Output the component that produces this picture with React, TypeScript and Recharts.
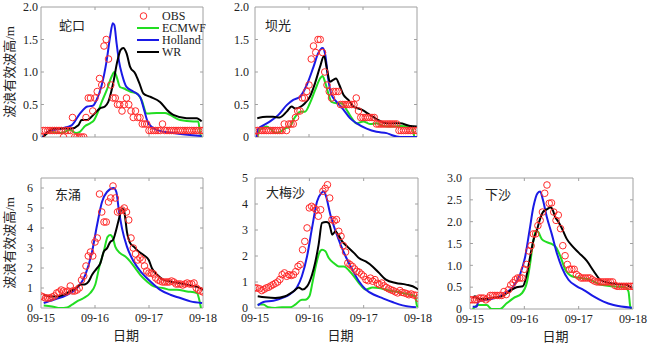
import { ComposedChart, Line, Scatter, XAxis, YAxis, ReferenceArea, ReferenceLine } from 'recharts'

// hours since 09-15 00:00, OBS is hourly
const HOURS = Array.from({ length: 73 }, (_, i) => i)
const DAY_TICKS = [0, 24, 48, 72]
const DAY_LABELS = ['09-15', '09-16', '09-17', '09-18']

const SERIES_NAMES = ['OBS', 'ECMWF', 'Holland', 'WR']

// 蛇口
const skObs = [
  0, 0.1, 0.1, 0.1, 0.1, 0.1, 0.1, 0.1, 0.1, 0.1,
  0, 0.1, 0.1, 0.1, 0.3, 0, 0, 0, 0, 0,
  0.3, 0.6, 0.6, 0.4, 0.6, 0.7, 0.9, 0.8, 1.4, 1.5,
  1.2, 0.8, 0.6, 0.6, 0.5, 0.5, 0.4, 0.5, 0.6, 0.5,
  0.4, 0.3, 0.4, 0.3, 0.3, 0.2, 0.2, 0.2, 0.1, 0.1,
  0.1, 0.1, 0.1, 0.1, 0.2, 0.1, 0.1, 0.1, 0.1, 0.1,
  0.1, 0.1, 0.1, 0.1, 0.1, 0.1, 0.1, 0.1, 0.1, 0.1,
  0.1, 0.1, 0.1,
]
const skEcmwf = [[0.7, 0], [4.7, 0.08], [7.7, 0.06], [10, 0.07], [12.9, 0.11], [15.6, 0.06], [17.3, 0.08], [19.6, 0.17], [21.8, 0.21], [23.6, 0.26], [25, 0.36], [27, 0.54], [29.2, 0.72], [31.4, 0.93], [32.6, 1.0], [33.6, 0.93], [35.1, 0.77], [36.6, 0.75], [39.6, 0.7], [42.5, 0.67], [44.7, 0.57], [47, 0.36], [51.4, 0.37], [55.1, 0.37], [57.3, 0.34], [61.8, 0.26], [67.7, 0.24], [69.9, 0.24], [70.7, 0.06], [71.4, 0]]
const skHolland = [[0.7, 0], [3, 0.08], [9, 0.13], [13.6, 0.18], [17.3, 0.36], [20.6, 0.47], [23, 0.48], [24.7, 0.57], [27, 0.8], [29.2, 1.18], [30.7, 1.54], [31.9, 1.75], [32.6, 1.72], [33.6, 1.44], [34.7, 1.16], [36.1, 0.95], [38, 0.77], [41, 0.7], [44, 0.62], [45.8, 0.42], [47.7, 0.21], [51.4, 0.11], [58.8, 0.06], [71.4, 0.015]]
const skWr = [[1, 0], [3.3, 0.08], [5.5, 0.13], [13.6, 0.13], [16.6, 0.18], [18, 0.26], [20.6, 0.26], [21.8, 0.29], [23.3, 0.34], [26.2, 0.44], [28.4, 0.47], [29.9, 0.54], [32.1, 0.83], [33.9, 1.16], [35.4, 1.34], [36.6, 1.37], [38, 1.29], [39.6, 1.08], [41.8, 0.98], [43.7, 0.83], [45.5, 0.67], [48.4, 0.62], [52.9, 0.54], [55.9, 0.42], [58.8, 0.34], [64.7, 0.29], [69.2, 0.29], [71.4, 0.24]]

// 坝光
const bgObs = [
  0, 0.1, 0.1, 0.1, 0.1, 0.1, 0.1, 0.1, 0.1, 0.1,
  0.1, 0.1, 0.1, 0.2, 0.1, 0.2, 0.2, 0.2, 0.3, 0.4,
  0.4, 0.6, 0.6, 0.7, 0.8, 1.2, 1.4, 1.3, 1.5, 1.5,
  1.3, 1.0, 0.8, 0.7, 0.6, 0.7, 0.7, 0.7, 0.5, 0.5,
  0.5, 0.5, 0.5, 0.5, 0.5, 0.6, 0.4, 0.3, 0.3, 0.3,
  0.3, 0.3, 0.3, 0.3, 0.2, 0.2, 0.2, 0.2, 0.2, 0.2,
  0.2, 0.2, 0.2, 0.2, 0.1, 0.1, 0.1, 0.1, 0.1, 0.1,
  0.1, 0.1, 0.1,
]
const bgEcmwf = [[1, 0], [2.2, 0.11], [5.2, 0.16], [7.4, 0.11], [8.9, 0.06], [11.1, 0.08], [13.3, 0.13], [15.6, 0.16], [17, 0.26], [18.5, 0.34], [20, 0.39], [22.2, 0.39], [24.4, 0.52], [26.7, 0.72], [28.9, 0.9], [30, 0.94], [31.1, 0.85], [32.6, 0.67], [34, 0.54], [36.3, 0.52], [38.5, 0.52], [40.7, 0.42], [43, 0.29], [45.2, 0.21], [48.1, 0.24], [51.1, 0.2], [54, 0.21], [57, 0.17], [61.5, 0.16], [64.4, 0.17], [69.6, 0.16], [70.8, 0]]
const bgHolland = [[0.7, 0], [1.5, 0.13], [3.7, 0.18], [6.7, 0.24], [10.4, 0.34], [14.1, 0.49], [17, 0.57], [20, 0.62], [23, 0.8], [26, 1.08], [28.1, 1.29], [30, 1.37], [31.1, 1.29], [32.6, 0.88], [34, 0.65], [36.3, 0.54], [39.3, 0.42], [42.2, 0.29], [45.2, 0.21], [49.6, 0.13], [54, 0.08], [58.5, 0.06], [60.7, 0.03], [64.4, 0], [72, 0]]
const bgWr = [[1, 0.29], [5.2, 0.31], [8, 0.31], [11, 0.3], [14.1, 0.39], [16.3, 0.47], [17.8, 0.44], [20, 0.46], [22.2, 0.52], [24.4, 0.62], [26.7, 0.83], [28.9, 1.08], [30.7, 1.25], [31.9, 1.06], [33.3, 0.85], [34.8, 0.88], [36, 0.9], [37.5, 0.8], [39.3, 0.65], [41.5, 0.57], [43.7, 0.47], [47.4, 0.42], [51.1, 0.34], [54.8, 0.26], [58.5, 0.21], [64.4, 0.21], [68.9, 0.17], [71.9, 0.16]]

// 东涌
const dyObs = [
  0.6, 0.55, 0.5, 0.5, 0.5, 0.55, 0.6, 0.75, 0.8, 0.9,
  0.85, 0.8, 0.85, 1.1, 0.85, 0.85, 0.9, 1.0, 1.4, 1.6,
  2.1, 2.6, 2.8, 2.6, 3.3, 3.5, 5.7, 4.8, 4.3, 4.3,
  5.3, 5.5, 6.1, 5.5, 4.8, 4.85, 4.9, 5.0, 4.8, 4.4,
  3.5, 3.0, 2.7, 2.4, 2.5, 2.4, 2.1, 1.85, 1.75, 1.75,
  1.7, 1.5, 1.4, 1.35, 1.3, 1.3, 1.3, 1.3, 1.35, 1.3,
  1.2, 1.2, 1.2, 1.15, 1.2, 1.25, 1.2, 1.2, 1.25, 1.0,
  0.9, 0.85, 0.8,
]
const dyEcmwf = [[1.2, 0.13], [4.9, 0.08], [8.6, 0], [11.6, 0.03], [13.8, 0.17], [16, 0.33], [19, 0.5], [21.9, 0.75], [24.1, 1.16], [26.1, 2.15], [27.9, 2.82], [29.6, 3.56], [30.8, 3.65], [32, 3.48], [33, 3.07], [35.3, 2.73], [37.5, 2.57], [39.7, 2.32], [41.9, 1.99], [44.1, 1.66], [47.1, 1.33], [50.1, 1.08], [54.5, 0.99], [57.5, 0.91], [60.4, 0.91], [64.9, 0.83], [69.3, 0.75], [70.5, 0.33], [71.1, 0]]
const dyHolland = [[1.2, 0.25], [5.6, 0.41], [11.6, 0.66], [16, 0.99], [19.7, 1.66], [22.7, 2.82], [24.9, 4.14], [27.1, 5.3], [29.3, 5.8], [32.3, 6.0], [33.5, 5.8], [34.5, 4.97], [36, 3.98], [38.2, 3.07], [41.2, 2.32], [44.9, 1.74], [48.6, 1.33], [53, 0.91], [57.5, 0.66], [61.9, 0.5], [66.4, 0.33], [71.6, 0.25]]
const dyWr = [[1.2, 0.66], [4.1, 0.58], [7.1, 0.58], [11.6, 0.75], [15.3, 0.99], [17.5, 1.16], [19.7, 1.19], [21.2, 1.33], [22.7, 1.66], [24.9, 1.99], [26.4, 2.24], [27.9, 2.82], [29.3, 2.98], [30.8, 3.31], [32, 3.4], [33, 3.73], [34.5, 4.39], [36, 4.97], [37, 4.81], [38.2, 3.81], [39.7, 3.23], [41.2, 3.07], [43.4, 2.82], [45.6, 2.65], [47.9, 2.4], [49.3, 1.99], [51.6, 1.66], [54.5, 1.41], [57.5, 1.33], [61.9, 1.24], [66.4, 1.13], [70.8, 0.99], [72, 0.91]]

// 大梅沙
const dmObs = [
  0.77, 0.77, 0.74, 0.67, 0.72, 0.77, 0.8, 0.85, 0.9, 0.95,
  1.0, 1.1, 1.28, 1.35, 1.22, 1.28, 1.25, 1.28, 1.4, 1.6,
  1.67, 2.24, 2.56, 3.08, 3.85, 3.91, 3.85, 3.78, 3.53, 3.78,
  4.49, 4.6, 4.74, 4.23, 3.4, 3.35, 3.4, 2.95, 2.76, 2.4,
  2.15, 1.73, 1.67, 1.6, 1.5, 1.41, 1.38, 1.3, 1.22, 1.09,
  1.05, 1.15, 1.03, 1.09, 0.95, 0.9, 0.96, 0.85, 0.79, 0.74,
  0.7, 0.67, 0.62, 0.58, 0.67, 0.6, 0.58, 0.55, 0.51, 0.54,
  0.5, 0.49, 0.38,
]
const dmEcmwf = [[1.2, 0.13], [3.7, 0.13], [5.9, 0.03], [8.9, 0], [11.9, 0.03], [15.6, 0.03], [17.8, 0.13], [20.7, 0.32], [22.2, 0.32], [24, 0.45], [25.5, 1.03], [27, 1.67], [28.4, 2.12], [29.6, 2.24], [31.1, 2.18], [32.6, 1.92], [34.8, 1.73], [37, 1.6], [39.3, 1.6], [41.5, 1.44], [43.7, 1.22], [45.9, 0.96], [48.9, 0.71], [51.9, 0.79], [54.8, 0.77], [59.3, 0.67], [65.2, 0.58], [69.6, 0.49], [70.8, 0.45], [71.4, 0.13], [71.8, 0.03]]
const dmHolland = [[1.2, 0.1], [3.7, 0.23], [8.1, 0.28], [11.9, 0.38], [15.6, 0.54], [18.5, 0.79], [20.7, 1.22], [23, 1.99], [25.2, 3.08], [27.4, 4.1], [29.3, 4.42], [30.4, 4.49], [31.4, 4.29], [33.3, 3.59], [35.6, 2.95], [37.8, 2.44], [40, 1.99], [43, 1.47], [45.9, 1.03], [48.9, 0.71], [52.6, 0.51], [56.3, 0.38], [60.7, 0.23], [65.2, 0.1], [71.1, 0.03]]
const dmWr = [[1.2, 0.45], [4.4, 0.41], [8.9, 0.38], [13.3, 0.45], [17, 0.64], [19.3, 0.79], [21, 0.71], [23, 0.83], [25.2, 1.28], [26.7, 1.79], [28.1, 2.44], [29.6, 3.27], [31.4, 3.31], [32.6, 3.27], [33.3, 3.08], [34.1, 2.82], [35.6, 2.95], [36.7, 2.82], [38.5, 2.56], [40.7, 2.37], [43.7, 2.12], [45.9, 1.92], [48.9, 1.79], [51.9, 1.6], [54.8, 1.35], [57.8, 1.09], [62.2, 0.96], [66.7, 0.9], [71.1, 0.77], [72, 0.71]]

// 下沙
const xsObs = [
  0.21, 0.21, 0.21, 0.21, 0.25, 0.25, 0.25, 0.21, 0.25, 0.31,
  0.31, 0.31, 0.31, 0.31, 0.31, 0.4, 0.33, 0.44, 0.55, 0.6,
  0.67, 0.71, 0.71, 0.71, 0.91, 1.02, 1.33, 1.45, 1.72, 1.72,
  1.91, 2.03, 2.22, 2.65, 2.84, 2.42, 2.43, 2.22, 2.03, 2.15,
  1.84, 1.45, 1.22, 1.02, 0.91, 0.91, 0.91, 0.79, 0.75, 0.71,
  0.71, 0.71, 0.71, 0.71, 0.67, 0.64, 0.62, 0.62, 0.62, 0.62,
  0.62, 0.62, 0.62, 0.62, 0.54, 0.52, 0.52, 0.52, 0.52, 0.52,
  0.52, 0.52, 0.52,
]
const xsEcmwf = [[1.2, 0], [3.7, 0.09], [7.4, 0.09], [9.6, 0], [13.3, 0], [16.2, 0.13], [19.2, 0.25], [22.9, 0.36], [25.1, 0.6], [26.5, 1.02], [28, 1.57], [29.2, 1.8], [30.2, 1.76], [31.7, 1.6], [33.9, 1.53], [36.1, 1.49], [38, 1.41], [39.8, 1.22], [42, 0.91], [45, 0.75], [48.7, 0.71], [53.1, 0.67], [57.5, 0.56], [62.7, 0.52], [68.6, 0.5], [70, 0.4], [70.8, 0.05], [71.2, 0]]
const xsHolland = [[1.2, 0.05], [2.9, 0.05], [3.7, 0.17], [7.4, 0.21], [11.8, 0.26], [15.5, 0.36], [19.2, 0.52], [22.1, 0.79], [24.3, 1.18], [26.3, 1.8], [28, 2.34], [29.8, 2.65], [31, 2.69], [32.2, 2.5], [33.9, 2.11], [36.1, 1.72], [38.3, 1.29], [40.6, 0.95], [43.5, 0.67], [47.2, 0.52], [50.1, 0.44], [54.6, 0.29], [59, 0.17], [63.4, 0.09], [71.5, 0.03]]
const xsWr = [[1.2, 0.25], [2.2, 0.29], [3.7, 0.23], [6.6, 0.23], [10.3, 0.26], [14, 0.29], [16.2, 0.36], [18.4, 0.44], [20.6, 0.5], [23.3, 0.52], [25.1, 0.79], [26.5, 1.18], [28, 1.57], [29.5, 1.8], [31, 2.07], [32.2, 2.22], [33.9, 2.28], [35.7, 2.33], [36.6, 2.26], [37.6, 2.11], [39.1, 1.99], [41, 1.8], [42.8, 1.6], [45, 1.45], [48, 1.29], [51.6, 1.1], [54.6, 0.87], [57.5, 0.67], [61.2, 0.6], [64.9, 0.57], [68.6, 0.56], [71.5, 0.48]]

const RED = '#ff2b2b'
const GREEN = '#22dd22'
const BLUE = '#1a1ae6'
const BLACK = '#000000'
const BOX = '#a0a0a0'
const TEXT = '#222'
const SERIF = '"Liberation Serif", "Times New Roman", serif'
const CJK = '"Liberation Serif", "Noto Sans CJK SC", serif'

const toPts = (arr: number[][]) => arr.map(([h, v]) => ({ h, v }))
const obsPts = (vals: number[]) => vals.map((v, i) => ({ h: HOURS[i], v }))

const oneDecimal = (v: number) => (v === 0 ? '0' : v.toFixed(1))
const integer = (v: number) => String(v)
const dayLabel = (v: number) => DAY_LABELS[DAY_TICKS.indexOf(v)]

const Ring = (props: any) => {
  const { cx, cy } = props
  if (cx == null || cy == null) return null
  return <circle cx={cx} cy={cy} r={3.3} fill="none" stroke={RED} strokeWidth={1} />
}

const makeYTick = (fmt: (v: number) => string) => (props: any) => (
  <text x={props.x} y={props.y} dy="0.35em" textAnchor="end" fontFamily={SERIF} fontSize={12} fill={TEXT}>
    {fmt(props.payload.value)}
  </text>
)

const XTick = (props: any) => (
  <text x={props.x} y={props.y} dy="0.71em" textAnchor="middle" fontFamily={SERIF} fontSize={12} fill={TEXT}>
    {dayLabel(props.payload.value)}
  </text>
)

interface PanelProps {
  title: string
  obs: number[]
  ecmwf: number[][]
  holland: number[][]
  wr: number[][]
  yMax: number
  yTicks: number[]
  fmt: (v: number) => string
  left: number
  plotTop: number
  plotW: number
  yw: number
  plotH: number
  tickGap: number
  showDates: boolean
  titleX: number
  titleY: number
}

function Panel(p: PanelProps) {
  const mTop = 10
  const mRight = 16
  const xh = p.showDates ? 35 : 14
  const height = mTop + p.plotH + xh
  const width = p.yw + p.plotW + mRight
  const tx = 1.3 // tick length in hours
  const ty = (p.yMax * 3) / p.plotH
  const inner = p.yTicks.filter((t) => t > 0 && t < p.yMax)
  return (
    <div style={{ position: 'absolute', left: p.left, top: p.plotTop - mTop }}>
      <ComposedChart width={width} height={height} margin={{ top: mTop, right: mRight, left: 0, bottom: 0 }}>
        <XAxis
          type="number"
          dataKey="h"
          domain={[0, 72]}
          ticks={DAY_TICKS}
          interval={0}
          minTickGap={0}
          tick={p.showDates ? XTick : false}
          tickLine={false}
          axisLine={false}
          tickSize={0}
          tickMargin={5}
          height={xh}
          allowDataOverflow
          label={p.showDates ? { value: '日期', position: 'insideBottom', offset: 3, dx: 4, fill: TEXT, fontSize: 13, fontFamily: CJK } : undefined}
        />
        <YAxis
          type="number"
          dataKey="v"
          domain={[0, p.yMax]}
          ticks={p.yTicks}
          interval={0}
          minTickGap={0}
          tick={makeYTick(p.fmt)}
          tickLine={false}
          axisLine={false}
          tickSize={0}
          tickMargin={p.tickGap}
          width={p.yw}
          allowDataOverflow
        />
        <ReferenceArea x1={0} x2={72} y1={0} y2={p.yMax} fill="none" stroke={BOX} strokeWidth={1} />
        {inner.map((t) => (
          <ReferenceLine key={'l' + t} segment={[{ x: 0, y: t }, { x: tx, y: t }]} stroke={BOX} />
        ))}
        {inner.map((t) => (
          <ReferenceLine key={'r' + t} segment={[{ x: 72 - tx, y: t }, { x: 72, y: t }]} stroke={BOX} />
        ))}
        {DAY_TICKS.slice(1, 3).map((t) => (
          <ReferenceLine key={'b' + t} segment={[{ x: t, y: 0 }, { x: t, y: ty }]} stroke={BOX} />
        ))}
        {DAY_TICKS.slice(1, 3).map((t) => (
          <ReferenceLine key={'t' + t} segment={[{ x: t, y: p.yMax - ty }, { x: t, y: p.yMax }]} stroke={BOX} />
        ))}
        <Scatter name="OBS" data={obsPts(p.obs)} shape={Ring} isAnimationActive={false} />
        <Line name="ECMWF" data={toPts(p.ecmwf)} dataKey="v" type="monotone" stroke={GREEN} strokeWidth={2} dot={false} isAnimationActive={false} />
        <Line name="Holland" data={toPts(p.holland)} dataKey="v" type="monotone" stroke={BLUE} strokeWidth={2} dot={false} isAnimationActive={false} />
        <Line name="WR" data={toPts(p.wr)} dataKey="v" type="monotone" stroke={BLACK} strokeWidth={2} dot={false} isAnimationActive={false} />
      </ComposedChart>
      {/* title: titleY is its centre, measured from the plot top */}
      <div style={{ position: 'absolute', left: p.titleX, top: mTop + p.titleY - 8, fontFamily: CJK, fontSize: 13, lineHeight: '16px', color: TEXT, whiteSpace: 'nowrap' }}>
        {p.title}
      </div>
    </div>
  )
}

function YLabel({ cx, cy }: { cx: number; cy: number }) {
  return (
    <div style={{ position: 'absolute', left: cx, top: cy, width: 0, height: 0 }}>
      <div style={{ position: 'absolute', transform: 'translate(-50%, -50%) rotate(-90deg)', whiteSpace: 'nowrap', fontFamily: CJK, fontSize: 13, lineHeight: '16px', color: TEXT }}>
        波浪有效波高/m
      </div>
    </div>
  )
}

function LegendBox() {
  const rows = [
    { y: 16, color: RED },
    { y: 28, color: GREEN },
    { y: 40, color: BLUE },
    { y: 52, color: BLACK },
  ]
  return (
    <svg width={215} height={64} style={{ position: 'absolute', left: 0, top: 0, overflow: 'visible' }}>
      {rows.map((r, i) => (
        <g key={SERIES_NAMES[i]}>
          {i === 0 ? (
            <circle cx={143.5} cy={r.y} r={3.3} fill="none" stroke={r.color} strokeWidth={1} />
          ) : (
            <line x1={137} x2={159} y1={r.y} y2={r.y} stroke={r.color} strokeWidth={2} />
          )}
          <text x={162} y={r.y + 4} fontFamily={SERIF} fontSize={12} fill={TEXT}>
            {SERIES_NAMES[i]}
          </text>
        </g>
      ))}
    </svg>
  )
}

export default function App() {
  return (
    <div style={{ position: 'absolute', left: 0, top: 0, width: 650, height: 343, background: '#fff', overflow: 'hidden', fontFamily: SERIF }}>
      <YLabel cx={10} cy={72} />
      <YLabel cx={10} cy={243} />
      <Panel title="蛇口" obs={skObs} ecmwf={skEcmwf} holland={skHolland} wr={skWr}
        yMax={2} yTicks={[0, 0.5, 1, 1.5, 2]} fmt={oneDecimal}
        left={0} plotTop={7} plotW={162} yw={41} plotH={130} tickGap={3} showDates={false} titleX={59} titleY={19} />
      <Panel title="坝光" obs={bgObs} ecmwf={bgEcmwf} holland={bgHolland} wr={bgWr}
        yMax={2} yTicks={[0, 0.5, 1, 1.5, 2]} fmt={oneDecimal}
        left={215} plotTop={7} plotW={162} yw={40} plotH={130} tickGap={6} showDates={false} titleX={50} titleY={19} />
      <Panel title="东涌" obs={dyObs} ecmwf={dyEcmwf} holland={dyHolland} wr={dyWr}
        yMax={6.5} yTicks={[0, 1, 2, 3, 4, 5, 6]} fmt={integer}
        left={0} plotTop={178} plotW={162} yw={41} plotH={130} tickGap={8} showDates titleX={55} titleY={17} />
      <Panel title="大梅沙" obs={dmObs} ecmwf={dmEcmwf} holland={dmHolland} wr={dmWr}
        yMax={5} yTicks={[0, 1, 2, 3, 4, 5]} fmt={integer}
        left={215} plotTop={178} plotW={163} yw={40} plotH={130} tickGap={7} showDates titleX={51} titleY={15} />
      <Panel title="下沙" obs={xsObs} ecmwf={xsEcmwf} holland={xsHolland} wr={xsWr}
        yMax={3} yTicks={[0, 0.5, 1, 1.5, 2, 2.5, 3]} fmt={oneDecimal}
        left={430} plotTop={178} plotW={163} yw={40} plotH={131} tickGap={8} showDates titleX={55} titleY={17} />
      <LegendBox />
    </div>
  )
}
